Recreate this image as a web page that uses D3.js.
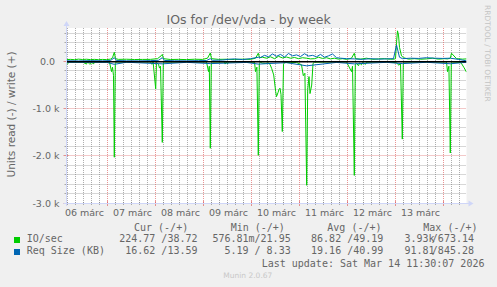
<!DOCTYPE html>
<html><head><meta charset="utf-8">
<script src="https://cdn.jsdelivr.net/npm/d3@7"></script>
<style>
html,body{margin:0;padding:0;background:#f0f0f0;}
svg{display:block;}
text{white-space:pre;}
</style></head>
<body>
<svg id="c" width="497" height="287"></svg>
<script>
// ---- data (hours after 2026-03-06 03:30 UTC, values) ----
const title = "IOs for /dev/vda - by week";
const yLabel = "Units read (-) / write (+)";
const dayLabels = ["06 márc","07 márc","08 márc","09 márc","10 márc","11 márc","12 márc","13 márc"];
const yTicks = [0, -1000, -2000, -3000];
const yTickLabels = ["0.0", "-1.0 k", "-2.0 k", "-3.0 k"];

// IO/sec read (drawn negative)
const ioReadH = [0,0.5,1.5,4,8,10,10.5,11.5,12,12.5,13.5,14,18,21.5,22.5,23,23.5,23.9,24.4,25,30,36,42,42.7,43.3,44.6,45,46,46.5,47,47.9,48.4,49,56,62,66,70,71,71.4,71.9,72.4,73,79,79.3,79.8,80.5,81,88,94,94.5,95.2,95.9,96.4,97,98,99.5,101,101.75,102.6,103.6,104.6,105,105.75,106.25,106.75,107.25,107.9,108.5,109,112,115,117.5,118.4,119.2,120.1,120.6,121.25,121.75,122.6,123.25,124,130,136,140,142.5,143,143.9,144.4,145,146,146.5,147.5,148,149.5,150,156,162,165,166.25,167,167.9,168.4,169,176,184,190,190.5,191.2,191.9,192.4,193,197,197.6,198.75,200];
const ioRead  = [45,50,8,10,12,55,8,50,55,10,55,8,10,12,215,120,300,2030,40,10,12,10,8,60,10,580,20,60,140,100,1715,30,10,12,8,10,10,215,100,1840,30,10,10,55,10,50,10,12,15,215,120,1990,40,20,35,40,30,60,150,285,640,745,660,590,565,700,1485,60,20,25,20,70,300,250,2625,600,320,680,500,40,15,10,12,10,215,100,2415,60,40,90,30,70,20,60,15,10,12,30,80,40,1645,30,10,12,10,10,215,100,1940,25,10,20,50,130,225];

// IO/sec write (drawn positive)
const ioWriteH = [0,2,4,6,8,10,12,14,16,18,20,22,23,23.9,24.5,26,30,34,38,42,45.5,47.3,47.9,48.5,52,56,60,64,68,70.5,71.9,72.5,76,80,84,88,92,94.5,95.9,96.5,98,100,102,104,106,108,110,112,114,116,118,120,122,124,126,128,130,132,134,136,138,140,142.5,143.9,144.5,147,150,153,156,159,162,163.75,164.5,165,165.5,166,166.5,167.5,168.5,171,174,177,180,183,186,189,190.5,191.9,192.5,195,198,200];
const ioWrite  = [40,45,38,50,42,48,40,45,38,44,40,50,80,195,60,45,48,42,44,45,60,120,150,60,42,45,40,48,44,70,180,60,45,48,42,50,45,70,175,80,90,70,100,60,110,75,95,70,85,60,80,70,55,60,90,65,80,55,70,50,60,45,70,175,60,50,70,45,55,60,48,50,60,400,650,560,300,120,80,50,60,48,55,70,50,60,55,70,175,60,50,55,39];

// Req Size read (drawn negative)
const rsReadH = [0,20,23.9,30,47.9,60,71.9,90,95.9,110,120.1,135,143.9,160,167.9,180,191.9,200];
const rsRead  = [15,18,60,16,50,18,45,20,55,25,92,20,50,18,45,17,48,16.6];

// Req Size write (drawn positive)
const rsWriteH = [0,6,12,18,22,23.9,25,30,36,42,46,47.9,49,54,60,66,70,71.9,73,78,81,84,88,92,95.9,97,99,101,103,105,107,109,111,113,115,117,119,121,123,125,127,129,131,133,135,137,140,144,148,152,156,160,163.5,165,166.5,168,172,176,180,184,188,192,196,200];
const rsWrite  = [15,12,18,14,20,80,20,15,13,18,25,80,22,15,14,18,20,60,25,30,45,55,40,60,90,85,130,100,160,110,150,95,170,120,140,105,165,115,130,100,150,90,120,160,80,70,60,55,45,60,50,55,60,350,90,60,70,65,80,70,65,70,45,13.6];

// legend stats
const legendNames = ["IO/sec", "Req Size (KB)"];
const legendColors = ["#00cc00", "#0066b3"];
const statHeaders = ["Cur (-/+)", "Min (-/+)", "Avg (-/+)", "Max (-/+)"];
const statCur = ["224.77 /38.72", "16.62 /13.59"];
const statMin = ["576.81m/21.95", "5.19 / 8.33"];
const statAvg = ["86.82 /49.19", "19.16 /40.99"];
const statMaxRead = ["3.93k", "91.81"];
const statMaxWrite = ["/673.14", "/845.28"];
const lastUpdate = "Last update: Sat Mar 14 11:30:07 2026";
const footer = "Munin 2.0.67";
const watermark = "RRDTOOL / TOBI OETIKER";

// ---- drawing ----
const svg = d3.select("#c");
const t0 = Date.UTC(2026,2,6,3,30);
const tEnd = Date.UTC(2026,2,14,11,30);
const H = 3600e3;
const L = 66.5, R = 466.5, T = 28, B = 203;
const x = d3.scaleUtc().domain([t0, tEnd]).range([L, R]);
const y = d3.scaleLinear().domain([-3000, 710]).range([B, T]);
const sans = "'DejaVu Sans', sans-serif", mono = "'DejaVu Sans Mono', monospace";
const FONT = "#666";

svg.append("rect").attr("x",0).attr("y",0).attr("width",497).attr("height",287).attr("fill","#f0f0f0");
svg.append("rect").attr("x",L).attr("y",T).attr("width",R-L).attr("height",B-T).attr("fill","#fff");

const snap = v => Math.floor(v) + 0.5;
const minorC = "rgba(120,120,120,0.6)", majorC = "rgba(220,90,90,0.65)";

// horizontal grid
const g = svg.append("g");
for (let v = -2800; v <= 700; v += 200) {
  if (v % 1000 === 0) continue;
  g.append("line").attr("x1",L).attr("x2",R).attr("y1",snap(y(v))).attr("y2",snap(y(v)))
    .attr("stroke",minorC).attr("stroke-dasharray","1,1");
  g.append("line").attr("x1",L-2).attr("x2",L+1).attr("y1",snap(y(v))).attr("y2",snap(y(v))).attr("stroke",minorC);
}
yTicks.forEach(v => {
  g.append("line").attr("x1",L).attr("x2",R).attr("y1",snap(y(v))).attr("y2",snap(y(v)))
    .attr("stroke",majorC).attr("stroke-dasharray","1,1");
  g.append("line").attr("x1",L-3).attr("x2",L+2).attr("y1",snap(y(v))).attr("y2",snap(y(v))).attr("stroke",majorC);
});
// vertical grid
const hourTicks = d3.utcHour.every(4).range(new Date(t0), new Date(tEnd));
hourTicks.forEach(d => {
  const major = d.getUTCHours() === 0;
  const xx = snap(x(d));
  g.append("line").attr("x1",xx).attr("x2",xx).attr("y1",T).attr("y2",B)
    .attr("stroke", major ? majorC : minorC).attr("stroke-dasharray","1,1");
  g.append("line").attr("x1",xx).attr("x2",xx).attr("y1",B-(major?2:1)).attr("y2",B+(major?3:2))
    .attr("stroke", major ? majorC : minorC);
});

// data lines
svg.append("clipPath").attr("id","clip").append("rect").attr("x",L).attr("y",T).attr("width",R-L).attr("height",B-T);
const dg = svg.append("g").attr("clip-path","url(#clip)");
function series(hs, vs, sign, color) {
  const pts = hs.map((h,i) => [new Date(t0 + h*H), sign*vs[i]]);
  dg.append("path").datum(pts)
    .attr("d", d3.line().x(d => x(d[0])).y(d => y(d[1])))
    .attr("fill","none").attr("stroke",color).attr("stroke-width",1);
}
series(ioReadH, ioRead, -1, legendColors[0]);
series(ioWriteH, ioWrite, 1, legendColors[0]);
series(rsReadH, rsRead, -1, legendColors[1]);
series(rsWriteH, rsWrite, 1, legendColors[1]);
dg.append("line").attr("x1",L).attr("x2",R).attr("y1",y(0)+0.25).attr("y2",y(0)+0.25).attr("stroke","#000").attr("stroke-width",1.5);

// axes
const AX = "#cfd6f8";
svg.append("line").attr("x1",L).attr("x2",L).attr("y1",B+3).attr("y2",T-4).attr("stroke",AX);
svg.append("line").attr("x1",L-3).attr("x2",R+4).attr("y1",B+0.5).attr("y2",B+0.5).attr("stroke",AX);
svg.append("path").attr("d",`M${L-3},${T-2}L${L+3},${T-2}L${L},${T-7}Z`).attr("fill",AX);
svg.append("path").attr("d",`M${R+2},${B-2.5}L${R+2},${B+3.5}L${R+7},${B+0.5}Z`).attr("fill",AX);

// y tick labels
yTicks.forEach((v,i) => {
  svg.append("text").attr("x", v === 0 ? 55 : 59.5).attr("y", y(v)+3.5).attr("text-anchor","end")
    .attr("font-family",sans).attr("font-size",9.5).attr("fill",FONT).text(yTickLabels[i]);
});
// x labels at noon
dayLabels.forEach((lab,i) => {
  const d = Date.UTC(2026,2,6+i,12,0);
  svg.append("text").attr("x", x(new Date(d))+1).attr("y",215.5).attr("text-anchor","middle")
    .attr("font-family",sans).attr("font-size",9.5).attr("fill",FONT).text(lab);
});

// title & labels
svg.append("text").attr("x",248.7).attr("y",24).attr("text-anchor","middle")
  .attr("font-family",sans).attr("font-size",12.5).attr("fill",FONT).text(title);
svg.append("text").attr("transform","translate(14.7,114.5) rotate(-90)").attr("text-anchor","middle")
  .attr("font-family",sans).attr("font-size",10.5).attr("fill",FONT).text(yLabel);
svg.append("text").attr("transform","translate(485.2,5) rotate(90)").attr("text-anchor","start")
  .attr("font-family",sans).attr("font-size",7.5).attr("fill","#c4c4c4").text(watermark);

// legend
const lt = (xx, yy, s, anchor) => svg.append("text").attr("x",xx).attr("y",yy)
  .attr("text-anchor",anchor || "start").attr("font-family",mono).attr("font-size",10).attr("fill",FONT).text(s);
const hx = [134, 230.7, 327.3, 423.3];
statHeaders.forEach((h,i) => lt(hx[i], 231, h));
const rowY = [242.3, 254.3];
legendNames.forEach((n,i) => {
  svg.append("rect").attr("x",14).attr("y",rowY[i]-5.3).attr("width",6).attr("height",6).attr("fill",legendColors[i]);
  lt(26.7, rowY[i], n);
  lt(197.5, rowY[i], statCur[i], "end");
  lt(290.7, rowY[i], statMin[i], "end");
  lt(383.3, rowY[i], statAvg[i], "end");
  lt(404.5, rowY[i], statMaxRead[i]);
  lt(474, rowY[i], statMaxWrite[i], "end");
});
lt(261.7, 266.5, lastUpdate);
svg.append("text").attr("x",247.8).attr("y",278).attr("text-anchor","middle")
  .attr("font-family",sans).attr("font-size",7.5).attr("fill","#c8c8c8").text(footer);
</script>
</body></html>
